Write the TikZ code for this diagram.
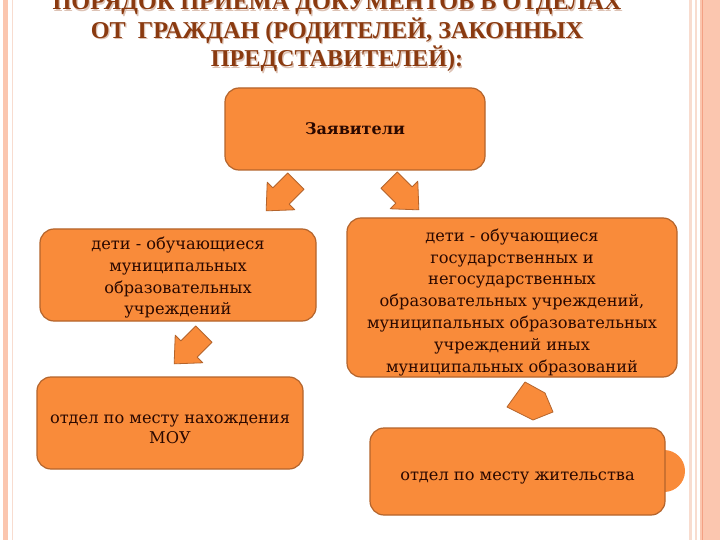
\documentclass[tikz,border=0pt]{standalone}
\usepackage{fontspec}
\setmainfont{Liberation Serif}
\newfontfamily\boxfont{DejaVu Serif}
\definecolor{org}{HTML}{F98B3A}
\definecolor{orgdraw}{HTML}{B4642C}
\definecolor{txt}{HTML}{2A0800}
\definecolor{ttl}{HTML}{8A3A10}
\definecolor{ttlshadow}{HTML}{DDC2B4}
\definecolor{stripe}{HTML}{FBC6AF}
\definecolor{stripedark}{HTML}{F3A084}
\definecolor{stripelight}{HTML}{F8DCCF}
\newcommand{\lowerby}[1]{\rule{0pt}{#1}}
\begin{document}
\begin{tikzpicture}[x=1pt,y=-1pt,
  box/.style={draw=orgdraw, line width=1.2pt, fill=org, rounded corners=14pt,
    align=center, text=txt, inner sep=0pt,
    font=\boxfont\fontsize{16.2}{21.8}\selectfont},
  blockarrow/.style={draw=orgdraw, line width=0.8pt, fill=org, line join=round},
  ttlstyle/.style={anchor=base, inner sep=0pt, text=ttl,
    font=\bfseries\fontsize{24.2}{28}\selectfont},
  ttlshad/.style={ttlstyle, text=ttlshadow}]
\useasboundingbox (0,0) rectangle (720,540);
\fill[white] (0,0) rectangle (720,540);
% page stripes
\fill[stripe] (3,0) rectangle (8,540);
\fill[stripelight] (12,0) rectangle (13,540);
\fill[stripelight] (689,0) rectangle (692,540);
\fill[stripelight] (695,0) rectangle (697,540);
\fill[stripe] (700,0) rectangle (720,540);
\fill[stripedark] (701.5,0) rectangle (702.5,540);
% title
\node[ttlshad] at (338.2,11.2) {ПОРЯДОК ПРИЕМА ДОКУМЕНТОВ В ОТДЕЛАХ};
\node[ttlshad] at (338.2,39.7) {ОТ\ \ ГРАЖДАН (РОДИТЕЛЕЙ, ЗАКОННЫХ};
\node[ttlshad] at (338.2,68.2) {ПРЕДСТАВИТЕЛЕЙ):};
\node[ttlstyle] (t1) at (337,10) {ПОРЯДОК ПРИЕМА ДОКУМЕНТОВ В ОТДЕЛАХ};
\node[ttlstyle] (t2) at (337,38.5) {ОТ\ \ ГРАЖДАН (РОДИТЕЛЕЙ, ЗАКОННЫХ};
\node[ttlstyle] (t3) at (337,67) {ПРЕДСТАВИТЕЛЕЙ):};
% boxes
\node[box, minimum width=260pt, minimum height=82pt, font=\boxfont\bfseries\fontsize{16}{20}\selectfont] (z) at (355,129) {Заявители};
\node[box, minimum width=276pt, minimum height=92pt] (l1) at (178,275)
  {\lowerby{18pt}дети - обучающиеся\\муниципальных\\образовательных\\учреждений};
\node[box, minimum width=330pt, minimum height=159pt] (r1) at (512,297.5)
  {\lowerby{22pt}дети - обучающиеся\\государственных и\\негосударственных\\образовательных учреждений,\\муниципальных образовательных\\учреждений иных\\муниципальных образований};
\node[box, minimum width=266pt, minimum height=92pt, font=\boxfont\fontsize{16.2}{20.5}\selectfont] (l2) at (170,423)
  {\lowerby{21pt}отдел по месту нахождения\\МОУ};
\fill[org] (664,471) circle (21);
\node[box, minimum width=295pt, minimum height=87pt] (r2) at (517.5,471.5)
  {\lowerby{22pt}отдел по месту жительства};
% block arrows
\draw[blockarrow, shift={(281,196)}, rotate=225]
  (-21,-11.5) -- (0,-11.5) -- (0,-19.5) -- (21,0) -- (0,19.5) -- (0,11.5) -- (-21,11.5) -- cycle;
\draw[blockarrow, shift={(404,195)}, rotate=315]
  (-21,-11.5) -- (0,-11.5) -- (0,-19.5) -- (21,0) -- (0,19.5) -- (0,11.5) -- (-21,11.5) -- cycle;
\draw[blockarrow, shift={(189,349)}, rotate=225]
  (-21,-11.5) -- (0,-11.5) -- (0,-19.5) -- (21,0) -- (0,19.5) -- (0,11.5) -- (-21,11.5) -- cycle;
\draw[blockarrow] (525,382) -- (545,393) -- (553,412) -- (533,420) -- (507,407) -- cycle;
\end{tikzpicture}
\end{document}
